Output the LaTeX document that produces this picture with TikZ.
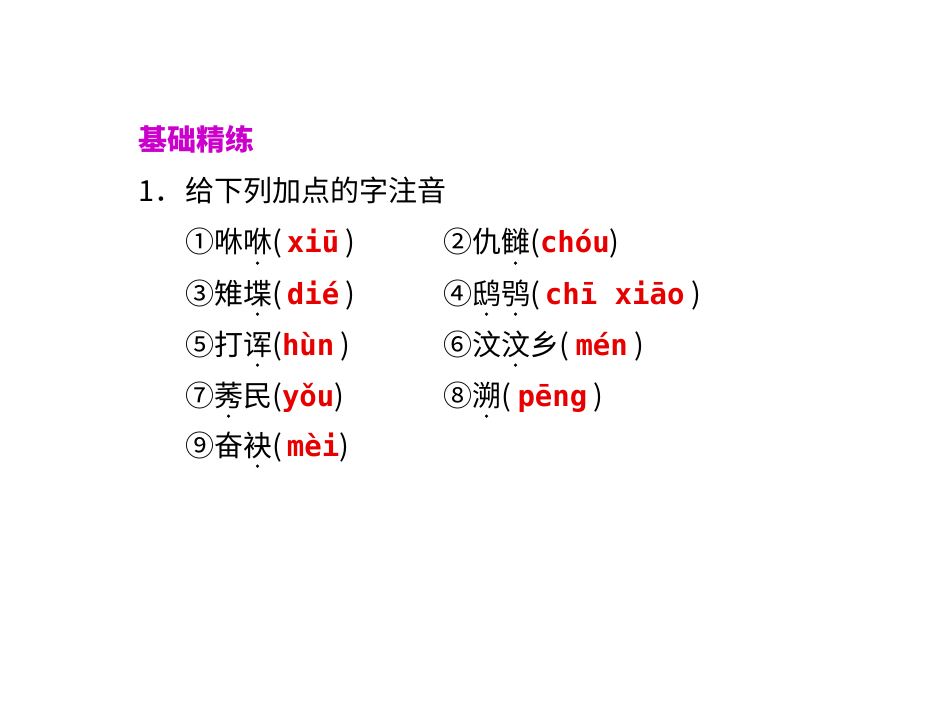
\documentclass[tikz,border=0pt]{standalone}
\usepackage{fontspec}
\setmainfont{Noto Sans CJK SC}
\newfontfamily\pyf{DejaVu Sans Mono}
\usepackage{xcolor}
\definecolor{py}{RGB}{230,0,0}
\definecolor{ttl}{RGB}{204,0,204}
\newcommand{\py}[1]{{\pyf\bfseries\color{py}#1}}
\begin{document}
\begin{tikzpicture}[x=1pt,y=-1pt,
  t/.style={anchor=base west,inner sep=0pt,font=\fontsize{29}{33}\selectfont},
  dot/.style={circle,fill=black,inner sep=0pt,minimum size=3.5pt}]
\useasboundingbox (0,0) rectangle (950,713);
\node[t,text=ttl,font=\fontsize{29}{33}\selectfont\bfseries] (title) at (138,150) {基础精练};
\node[t] (qn) at (138,201) {1．};
\node[t] (q) at (185,201) {给下列加点的字注音};
\node[t] (a1) at (185,252) {①咻咻(\,\py{xiū} )};
\node[t] (a2) at (443,252) {②仇雠(\py{chóu})};
\node[t] (a3) at (185,304) {③雉堞(\,\py{dié} )};
\node[t] (a4) at (443,304) {④鸱鸮(\,\py{chī xiāo} )};
\node[t] (a5) at (185,355) {⑤打诨(\py{hùn} )};
\node[t] (a6) at (443,355) {⑥汶汶乡( \py{mén} )};
\node[t] (a7) at (185,406) {⑦莠民(\py{yǒu})};
\node[t] (a8) at (443,406) {⑧溯( \py{pēng} )};
\node[t] (a9) at (185,456) {⑨奋袂(\,\py{mèi})};
\node[dot] (d1) at (257.5,263) {};
\node[dot] (d2) at (515.5,263) {};
\node[dot] (d3) at (257.5,314) {};
\node[dot] (d4a) at (486.5,314) {};
\node[dot] (d4b) at (515.5,314) {};
\node[dot] (d5) at (257.5,365) {};
\node[dot] (d6) at (515.5,365) {};
\node[dot] (d7) at (228.5,416) {};
\node[dot] (d8) at (486.5,416) {};
\node[dot] (d9) at (257.5,466) {};
\end{tikzpicture}
\end{document}
